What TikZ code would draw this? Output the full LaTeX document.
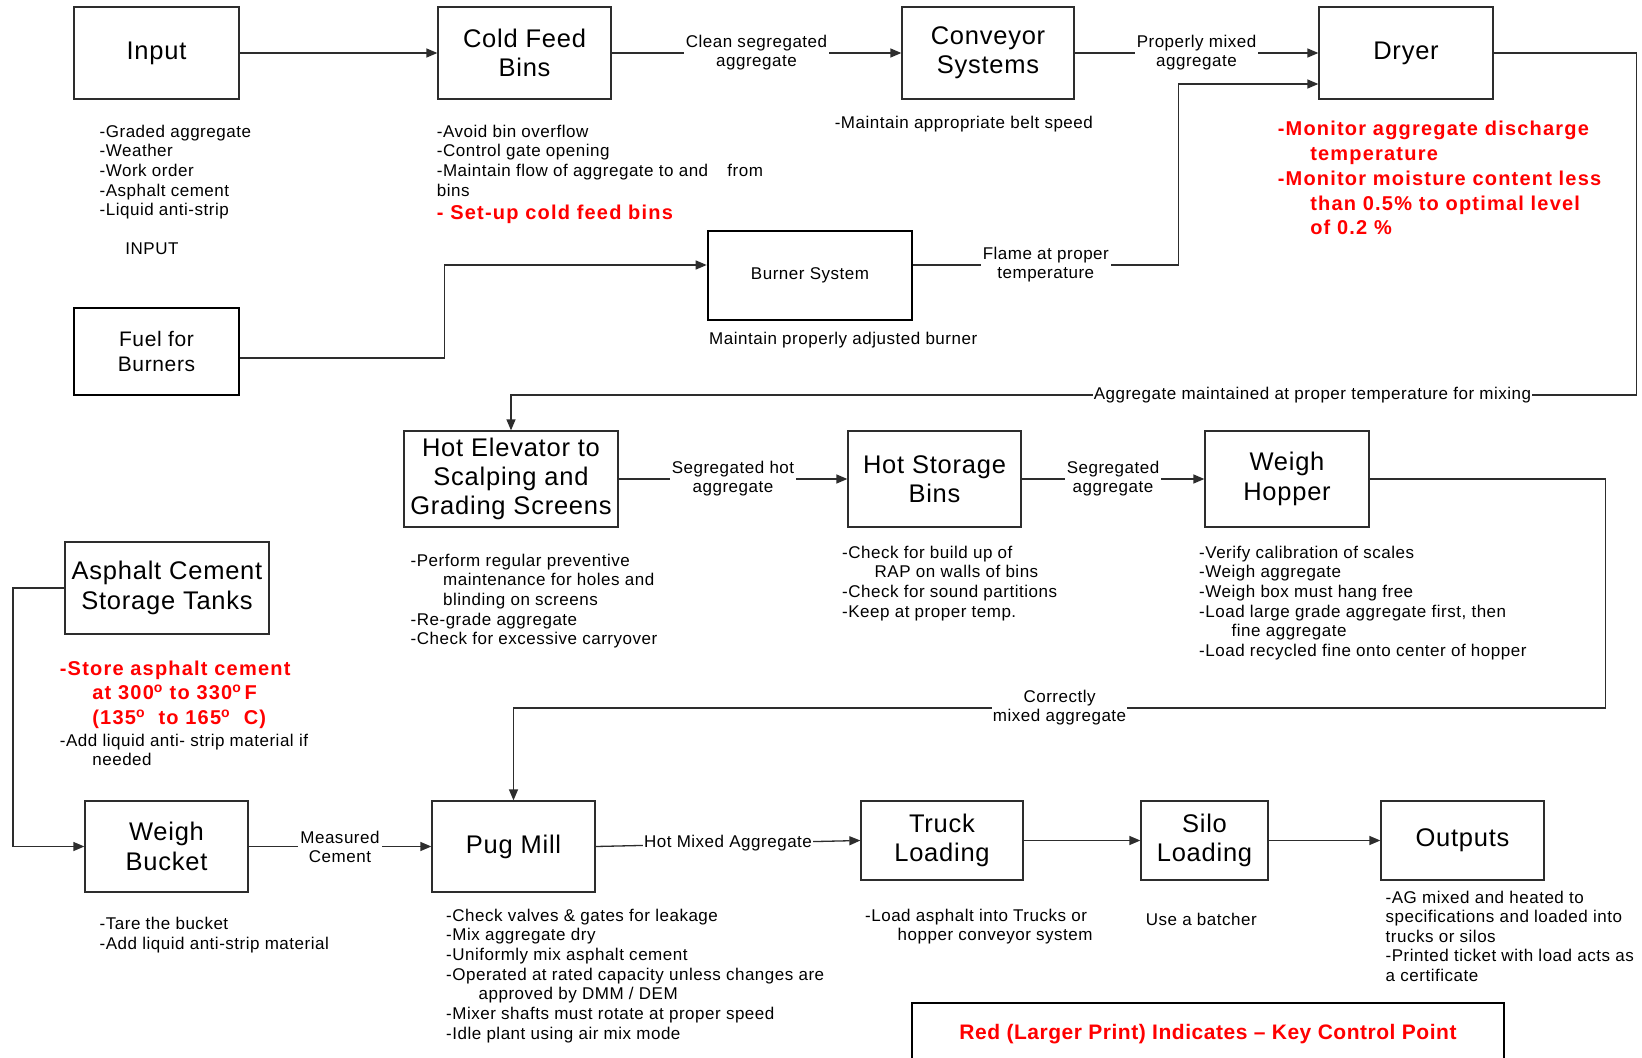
\documentclass[tikz,border=0pt]{standalone}
\usepackage{fontspec}
\setmainfont{Liberation Sans}
\newfontfamily\bodyf{Liberation Sans}[LetterSpace=3]
\newfontfamily\titlef{Liberation Sans}[LetterSpace=3]
\newfontfamily\redf{Liberation Sans}[LetterSpace=6]
\newfontfamily\legf{Liberation Sans}[LetterSpace=2.5]
\usetikzlibrary{arrows.meta}
\definecolor{keyred}{RGB}{255,0,0}
\definecolor{lncol}{RGB}{45,45,45}
\begin{document}
\begin{tikzpicture}[x=1pt,y=-1pt,
  box/.style={draw=lncol, line width=1.3pt, fill=white, align=center, inner sep=2pt,
    font=\titlef\fontsize{25.5}{29.3}\selectfont},
  tbox/.style={box, draw=black, line width=2.6pt},
  note/.style={anchor=north west, inner sep=0pt, align=left,
    font=\bodyf\fontsize{17}{19.7}\selectfont},
  rednote/.style={anchor=north west, inner sep=0pt, align=left, text=keyred,
    font=\redf\bfseries\fontsize{20}{24.7}\selectfont},
  lbl/.style={fill=white, inner sep=2pt, align=center,
    font=\bodyf\fontsize{17}{19}\selectfont},
  arr/.style={draw=lncol, line width=1.3pt, -{Triangle[length=11pt,width=9pt]}},
  plain/.style={draw=lncol, line width=1.3pt}]
\useasboundingbox (0,0) rectangle (1642,1058);
\clip (0,0) rectangle (1642,1058);
\fill[white] (0,0) rectangle (1642,1058);

% ---------- boxes ----------
\node[box, minimum width=165pt, minimum height=92pt] (input) at (156.5,53) {\raisebox{-2pt}{Input}};
\node[box, minimum width=173pt, minimum height=92pt] (cold) at (524.5,53) {Cold Feed\\Bins};
\node[box, minimum width=172pt, minimum height=92pt] (conv) at (988,53) {Conveyor\\Systems};
\node[box, minimum width=174pt, minimum height=92pt] (dryer) at (1406,53) {\raisebox{-2pt}{Dryer}};
\node[tbox, minimum width=204pt, minimum height=89pt, font=\bodyf\fontsize{17}{19.7}\selectfont] (burner) at (810,275.5) {Burner System};
\node[tbox, minimum width=165pt, minimum height=87pt, font=\titlef\fontsize{21}{25}\selectfont] (fuel) at (156.5,351.5) {Fuel for\\Burners};
\node[box, minimum width=214pt, minimum height=96pt] (hotel) at (511,479) {Hot Elevator to\\Scalping and\\Grading Screens};
\node[box, minimum width=173pt, minimum height=96pt] (hotst) at (934.5,479) {Hot Storage\\Bins};
\node[box, minimum width=164pt, minimum height=96pt] (hopper) at (1287,479) {Weigh\\Hopper};
\node[box, minimum width=204pt, minimum height=92pt] (asph) at (167,588) {Asphalt Cement\\Storage Tanks};
\node[box, minimum width=163pt, minimum height=91pt] (bucket) at (166.5,846.5) {Weigh\\Bucket};
\node[box, minimum width=163pt, minimum height=91pt] (pug) at (513.5,846.5) {Pug Mill};
\node[box, minimum width=162pt, minimum height=79pt] (truck) at (942,840.5) {Truck\\Loading};
\node[box, minimum width=127pt, minimum height=79pt] (silo) at (1204.5,840.5) {Silo\\Loading};
\node[box, minimum width=163pt, minimum height=79pt] (outputs) at (1462.5,840.5) {Outputs};

% ---------- connectors ----------
\draw[arr] (input) -- (cold);
\draw[arr] (cold) -- node[lbl]{Clean segregated\\aggregate} (conv);
\draw[arr] (conv) -- node[lbl]{Properly mixed\\aggregate} (dryer);
\draw[arr] ([yshift=10.5pt]burner.east) -- node[lbl]{Flame at proper\\temperature} ++(265,0) |- ([yshift=-31pt]dryer.west);
\draw[arr] ([yshift=-6.5pt]fuel.east) -- ++(204,0) |- ([yshift=10.5pt]burner.west);
\draw[arr] (dryer.east) -- ++(143,0) -- ++(0,342) -| node[lbl, pos=0.144, inner sep=1pt]{Aggregate maintained at proper temperature for mixing} (hotel.north);
\draw[arr] (hotel) -- node[lbl]{Segregated hot\\aggregate} (hotst);
\draw[arr] (hotst) -- node[lbl]{Segregated\\aggregate} (hopper);
\draw[arr] (hopper.east) -- ++(236,0) -- ++(0,229) -| node[lbl, pos=0.25, inner sep=1pt]{Correctly\\mixed aggregate} (pug.north);
\draw[arr] (asph.west) -- ++(-51.5,0) |- (bucket.west);
\draw[arr] (bucket) -- node[lbl]{Measured\\Cement} (pug);
\draw[arr] (pug.east) -- node[lbl, inner sep=1pt]{Hot Mixed Aggregate} (truck.west);
\draw[arr] (truck) -- (silo);
\draw[arr] (silo) -- (outputs);

% ---------- notes ----------
\node[note] (ninput) at (99.5,124.5) {-Graded aggregate\\-Weather\\-Work order\\-Asphalt cement\\-Liquid anti-strip};
\node[inner sep=0pt, font=\bodyf\fontsize{17}{19.7}\selectfont] (inputlbl) at (152,249) {INPUT};
\node[note] (ncold) at (436.7,124.5) {-Avoid bin overflow\\-Control gate opening\\-Maintain flow of aggregate to and\hspace{14pt} from\\bins};
\node[rednote] (rcold) at (436.7,205) {- Set-up cold feed bins};
\node[note] (nconv) at (834.6,116) {-Maintain appropriate belt speed};
\node[rednote] (rdryer) at (1277.6,121.3) {-Monitor aggregate discharge\\\hspace*{32.5pt}temperature\\-Monitor moisture content less\\\hspace*{32.5pt}than 0.5\% to optimal level\\\hspace*{32.5pt}of 0.2 \%};
\node[note] (nburner) at (709,331.5) {Maintain properly adjusted burner};
\node[note] (nhotel) at (410.5,553.5) {-Perform regular preventive\\\hspace*{32.5pt}maintenance for holes and\\\hspace*{32.5pt}blinding on screens\\-Re-grade aggregate\\-Check for excessive carryover};
\node[note] (nhotst) at (842,545.5) {-Check for build up of\\\hspace*{32.5pt}RAP on walls of bins\\-Check for sound partitions\\-Keep at proper temp.};
\node[note] (nhopper) at (1199,545.5) {-Verify calibration of scales\\-Weigh aggregate\\-Weigh box must hang free\\-Load large grade aggregate first, then\\\hspace*{32.5pt}fine aggregate\\-Load recycled fine onto center of hopper};
\node[rednote] (rasph) at (59.7,660.5) {-Store asphalt cement\\\hspace*{32.5pt}at 300\textsuperscript{o} to 330\textsuperscript{o}\,F\\\hspace*{32.5pt}(135\textsuperscript{o}\ \ to 165\textsuperscript{o}\ \ C)};
\node[note] (nasph) at (59.7,733.5) {-Add liquid anti- strip material if\\\hspace*{32.5pt}needed};
\node[note] (nbucket) at (99.5,917) {-Tare the bucket\\-Add liquid anti-strip material};
\node[note] (npug) at (446,908.5) {-Check valves \& gates for leakage\\-Mix aggregate dry\\-Uniformly mix asphalt cement\\-Operated at rated capacity unless changes are\\\hspace*{32.5pt}approved by DMM / DEM\\-Mixer shafts must rotate at proper speed\\-Idle plant using air mix mode};
\node[note] (ntruck) at (865,908.5) {-Load asphalt into Trucks or\\\hspace*{32.5pt}hopper conveyor system};
\node[note] (nsilo) at (1145.6,913) {Use a batcher};
\node[note, font=\bodyf\fontsize{17}{19.4}\selectfont] (nout) at (1385.5,891) {-AG mixed and heated to\\specifications and loaded into\\trucks or silos\\-Printed ticket with load acts as\\a certificate};

% ---------- legend ----------
\node[draw=black, line width=2.6pt, minimum width=592pt, minimum height=62pt, inner sep=0pt,
  text=keyred, font=\legf\bfseries\fontsize{21}{25}\selectfont] (legend) at (1208,1034)
  {\raisebox{4pt}{Red (Larger Print) Indicates \textendash{} Key Control Point}};
\end{tikzpicture}
\end{document}
